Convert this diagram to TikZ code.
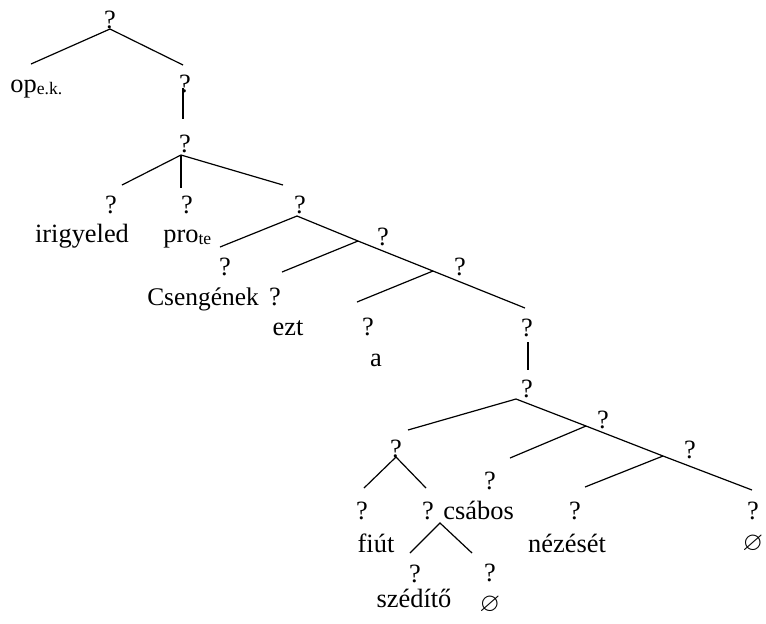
\documentclass[tikz,border=0pt]{standalone}
\usepackage{fontspec}
\usepackage{amssymb}
\setmainfont{Liberation Serif}
\newcommand{\mysubs}[1]{\raisebox{-1.2pt}{\fontsize{8.8}{10}\selectfont #1}}
\begin{document}
\begin{tikzpicture}[x=0.5pt,y=-0.5pt,
  lab/.style={inner sep=0pt, anchor=base, font=\fontsize{13.2}{15}\selectfont},
  labw/.style={lab, anchor=base west},
  edge/.style={line width=0.6pt, black}]
\useasboundingbox (0,0) rectangle (766,623);
% question marks
\node[lab] (q1) at (110,28) {?};
\node[lab] (q2) at (185,92) {?};
\node[lab] (q3) at (185,152) {?};
\node[lab] (q4) at (111,213) {?};
\node[lab] (q5) at (187,213) {?};
\node[lab] (q6) at (300,213) {?};
\node[lab] (q7) at (383,245) {?};
\node[lab] (q8) at (460,275) {?};
\node[lab] (q9) at (225,275) {?};
\node[lab] (q10) at (275,305) {?};
\node[lab] (q11) at (368,335) {?};
\node[lab] (q12) at (527,336) {?};
\node[lab] (q13) at (527,397) {?};
\node[lab] (q14) at (603,428) {?};
\node[lab] (q15) at (690,458) {?};
\node[lab] (q16) at (396,457) {?};
\node[lab] (q17) at (490,489) {?};
\node[lab] (q18) at (362,519) {?};
\node[lab] (q19) at (428,519) {?};
\node[lab] (q20) at (575,519) {?};
\node[lab] (q21) at (753,519) {?};
\node[lab] (q22) at (415,582) {?};
\node[lab] (q23) at (490,581) {?};
% words
\node[labw] (w1) at (10,92) {op\mysubs{e.k.}};
\node[lab] (w2) at (82,242) {irigyeled};
\node[labw] (w3) at (163,242) {pro\mysubs{te}};
\node[lab, font=\fontsize{12.7}{14}\selectfont] (w4) at (203,305) {Csengének};
\node[lab] (w5) at (288,335) {ezt};
\node[lab] (w6) at (376,366) {a};
\node[lab] (w7) at (376,552) {fiút};
\node[labw] (w8) at (443,519) {csábos};
\node[lab] (w9) at (567,552) {nézését};
\node[lab] (w10) at (753,550) {$\varnothing$};
\node[lab] (w11) at (414,607) {szédítő};
\node[lab] (w12) at (490,611) {$\varnothing$};
% branch points and free ends
\coordinate (a0) at (110,29);
\coordinate (a1) at (31,64);
\coordinate (a2) at (183,65);
\coordinate (b0) at (183,88);
\coordinate (b1) at (183,119);
\coordinate (c0) at (181,155);
\coordinate (c1) at (122,185);
\coordinate (c2) at (181,188);
\coordinate (c3) at (283,185);
\coordinate (d0) at (297,216);
\coordinate (d1) at (220,247);
\coordinate (d2) at (358,241);
\coordinate (d3) at (433,271);
\coordinate (d4) at (525,308);
\coordinate (d5) at (282,272);
\coordinate (d6) at (357,302);
\coordinate (e0) at (528,342);
\coordinate (e1) at (528,370);
\coordinate (f0) at (516,399);
\coordinate (f1) at (408,430);
\coordinate (f2) at (586,426);
\coordinate (f3) at (663,456);
\coordinate (f4) at (752,490);
\coordinate (f5) at (510,458);
\coordinate (f6) at (585,487);
\coordinate (g0) at (396,457);
\coordinate (g1) at (364,488);
\coordinate (g2) at (426,488);
\coordinate (h0) at (440,523);
\coordinate (h1) at (410,553);
\coordinate (h2) at (472,553);
% connectors
\draw[edge] (a1) -- (a0) -- (a2);
\draw[edge] (b0) -- (b1);
\draw[edge] (c0) -- (c1);
\draw[edge] (c0) -- (c2);
\draw[edge] (c0) -- (c3);
\draw[edge] (d1) -- (d0) -- (d2) -- (d3) -- (d4);
\draw[edge] (d2) -- (d5);
\draw[edge] (d3) -- (d6);
\draw[edge] (e0) -- (e1);
\draw[edge] (f1) -- (f0) -- (f2) -- (f3) -- (f4);
\draw[edge] (f2) -- (f5);
\draw[edge] (f3) -- (f6);
\draw[edge] (g1) -- (g0) -- (g2);
\draw[edge] (h1) -- (h0) -- (h2);
\end{tikzpicture}
\end{document}
